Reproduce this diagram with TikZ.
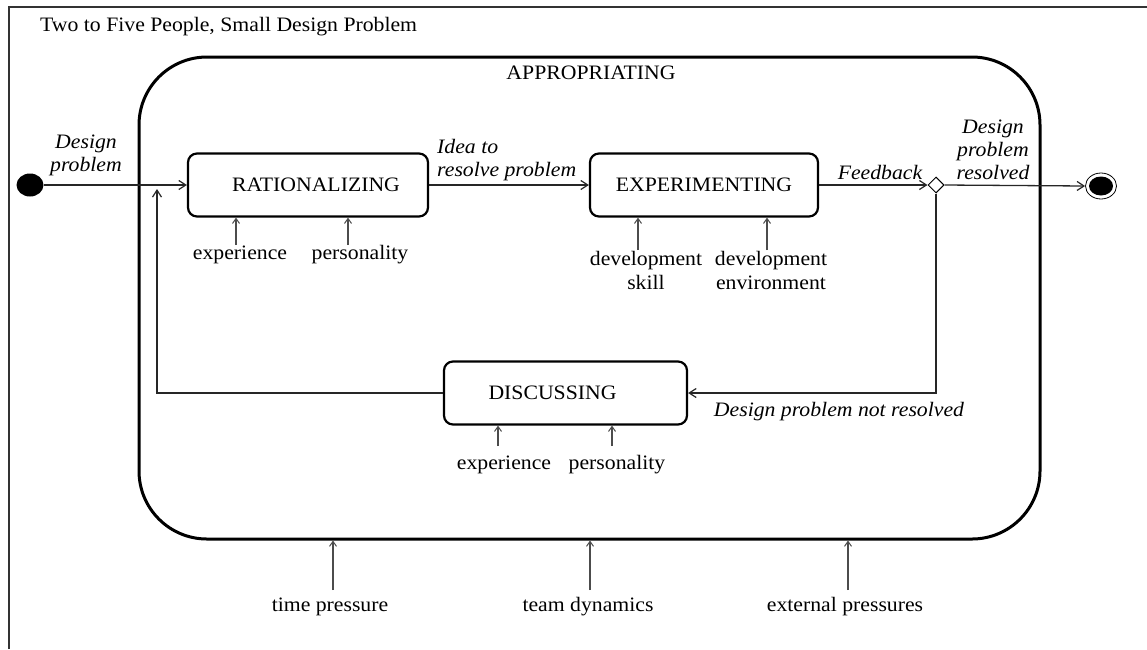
\documentclass[tikz,border=0pt]{standalone}
\usepackage{fontspec}
\setmainfont{Liberation Serif}[FakeStretch=1.06]
\usetikzlibrary{arrows.meta,shapes.geometric}
\begin{document}
\begin{tikzpicture}[x=1pt,y=-1pt,
  every node/.style={font=\fontsize{20.5}{24}\selectfont, inner sep=0pt, align=center},
  statebox/.style={draw, line width=2.2pt, rounded corners=9pt, minimum height=63pt},
  conn/.style={line width=1.3pt, draw=black!85, -{Straight Barb[length=7pt,width=9pt,line width=1.2pt]}},
  inarrow/.style={line width=1.2pt, draw=black!70, -{Straight Barb[length=5pt,width=7pt,line width=1pt]}},
  lab/.style={font=\fontsize{20.5}{23}\selectfont\itshape},
]
\useasboundingbox (0,0) rectangle (1147,649);
% outer frame
\draw[line width=2.2pt, draw=black!80] (9,649) -- (9,7) -- (1147,7);
\node[anchor=west] (title) at (40,27) {Two to Five People, Small Design Problem};

% composite state
\node[draw, line width=3pt, rounded corners=68pt, minimum width=901pt, minimum height=482pt] (app) at (589.5,298) {};
\node (applab) at (591,73) {APPROPRIATING};

% states
\node[statebox, minimum width=240pt] (rat) at (308,185) {\hspace*{16pt}RATIONALIZING};
\node[statebox, minimum width=228pt] (exp) at (704,185) {EXPERIMENTING};
\node[statebox, minimum width=243pt] (dis) at (565.5,393) {DISCUSSING\hspace*{26pt}};

% pseudo states
\node[ellipse, fill=black, minimum width=27pt, minimum height=23pt] (start) at (30,185) {};
\node[ellipse, draw, line width=0.8pt, minimum width=31pt, minimum height=26pt] (end) at (1101,186) {};
\node[ellipse, fill=black, minimum width=24pt, minimum height=19pt] (endin) at (1101,186) {};
\node[diamond, draw, line width=1pt, fill=white, minimum width=16pt, minimum height=16pt] (dec) at (936,185) {};

% transitions
\coordinate (loop) at (157,189);
\draw[conn] (start.east) -- (rat.west);
\draw[conn] (rat.east) -- (exp.west);
\draw[conn] (exp.east) -- (dec.west);
\draw[conn] (dec.east) -- (end.west);
\draw[conn] (dec.south) |- (dis.east);
\draw[conn] (dis.west) -| (loop);

% transition labels
\node[lab] (l1) at (86,155) {Design\\problem};
\node[lab, align=left, anchor=west] (l2) at (437,160) {Idea to\\resolve problem};
\node[lab] (l3) at (880,172) {Feedback};
\node[lab] (l4) at (993,150) {Design\\problem\\resolved};
\node[lab] (l5) at (839,412) {Design problem not resolved};

% influences
\node (i1) at (240,255) {experience};
\node (i2) at (360,255) {personality};
\node (i3) at (646,270) {development\\skill};
\node (i4) at (771,270) {development\\environment};
\node (i5) at (504,465) {experience};
\node (i6) at (617,465) {personality};
\node (b1) at (330,607) {time pressure};
\node (b2) at (588,607) {team dynamics};
\node (b3) at (845,607) {external pressures};

\coordinate (a1) at (236,245);
\coordinate (a2) at (348,245);
\coordinate (a3) at (638,250);
\coordinate (a4) at (767,250);
\coordinate (a5) at (498,446);
\coordinate (a6) at (612,446);
\coordinate (c1) at (333,590);
\coordinate (c2) at (590,590);
\coordinate (c3) at (848,590);
\draw[inarrow] (a1) -- (a1 |- rat.south);
\draw[inarrow] (a2) -- (a2 |- rat.south);
\draw[inarrow] (a3) -- (a3 |- exp.south);
\draw[inarrow] (a4) -- (a4 |- exp.south);
\draw[inarrow] (a5) -- (a5 |- dis.south);
\draw[inarrow] (a6) -- (a6 |- dis.south);
\draw[inarrow] (c1) -- (c1 |- app.south);
\draw[inarrow] (c2) -- (c2 |- app.south);
\draw[inarrow] (c3) -- (c3 |- app.south);
\end{tikzpicture}
\end{document}
